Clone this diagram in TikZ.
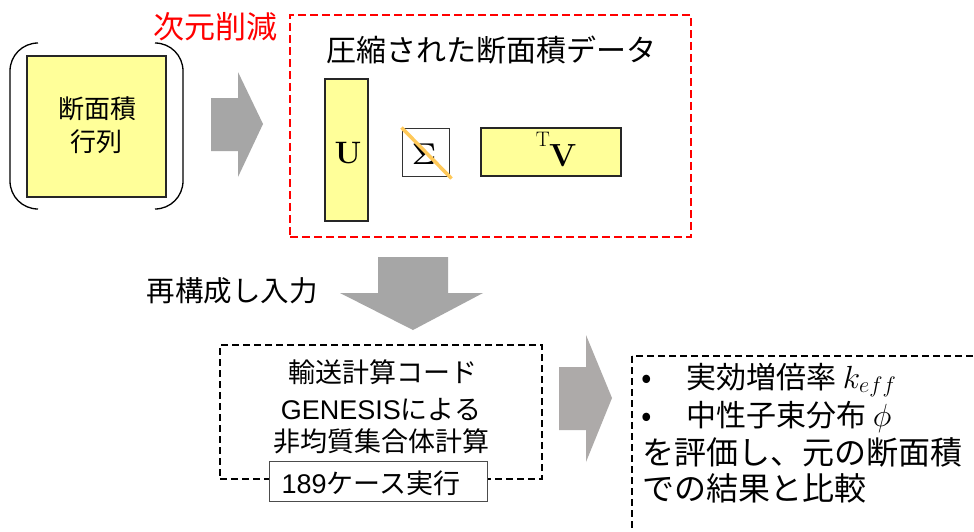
\RequirePackage{fix-cm}
\documentclass[tikz,border=0pt]{standalone}
\usepackage[no-math]{fontspec}
\setmainfont{Liberation Sans}
\newfontfamily\jp{Noto Sans CJK JP}
\newfontfamily\lat{Liberation Sans}
\definecolor{ylw}{HTML}{FFFF99}
\definecolor{agray}{HTML}{A6A6A6}
\definecolor{agray2}{HTML}{ADAAA9}
\definecolor{orng}{HTML}{FFC95A}
\tikzset{
  jt/.style={font={\jp\fontsize{#1pt}{#1pt}\selectfont}, inner sep=0pt, anchor=base},
  ybox/.style={draw=black!85, line width=1.2pt, fill=ylw, inner sep=0pt},
  bdash/.style={draw=black, line width=1.3pt, dash pattern=on 7pt off 4pt},
  rdash/.style={draw=red, line width=1.8pt, dash pattern=on 8pt off 4pt},
}
\begin{document}
\begin{tikzpicture}[x=1pt,y=-1pt]
\clip (0,0) rectangle (974,531);
\fill[white] (0,0) rectangle (974,531);

% left matrix
\draw[line width=1.3pt, rounded corners=28pt] (38,43) -- (10,43) -- (10,209) -- (38,209);
\draw[line width=1.3pt, rounded corners=28pt] (155,43) -- (183,43) -- (183,209) -- (155,209);
\node[ybox, minimum width=139pt, minimum height=141pt] (mat) at (96.5,126.5) {};
\node[jt=26] (matA) at (97,118) {断面積};
\node[jt=26] (matB) at (96,151) {行列};

% arrow 1
\fill[agray] (211,98) -- (238,98) -- (238,72) -- (263,124) -- (238,177) -- (238,151) -- (211,151) -- cycle;

% red label and box
\node[jt=31, text=red] (dimred) at (215.5,38) {次元削減};
\node[rdash, minimum width=401pt, minimum height=222pt, inner sep=0pt] (redbox) at (490.5,126) {};
\node[jt=30] (title) at (491,61) {圧縮された断面積データ};

% U, Sigma, V
\node[ybox, minimum width=43pt, minimum height=142pt] (U) at (346.5,150) {};
\node[inner sep=0pt, font=\fontsize{31pt}{31pt}\selectfont] (Ulab) at (348,153) {$\mathbf{U}$};
\node[draw=black!80, line width=1pt, fill=white, minimum width=47pt, minimum height=48pt, inner sep=0pt] (S) at (425.5,152) {};
\node[inner sep=0pt, font=\fontsize{30pt}{30pt}\selectfont] (Slab) at (424,154) {$\mathbf{\Sigma}$};
\draw[orng, line width=3.5pt] (S.north west) -- ([xshift=2pt,yshift=-2pt]S.south east);
\node[ybox, minimum width=140pt, minimum height=48pt] (V) at (551,152) {};
\node[inner sep=0pt, font=\fontsize{21pt}{21pt}\selectfont] (Tlab) at (543,139) {$\mathrm{T}$};
\node[inner sep=0pt, font=\fontsize{32pt}{32pt}\selectfont] (Vlab) at (563,156) {$\mathbf{V}$};

% down arrow
\fill[agray] (378,257) -- (448,257) -- (448,293) -- (483,293) -- (413,330) -- (340,293) -- (378,293) -- cycle;
\node[jt=28.5] (recon) at (232,301) {再構成し入力};

% calc box
\node[bdash, minimum width=322pt, minimum height=134pt, inner sep=0pt] (calc) at (381,412) {};
\node[jt=27] (c1) at (383,382) {輸送計算コード};
\node[jt=27] (c2) at (381,419) {{\lat GENESIS}による};
\node[jt=27] (c3) at (381,451) {非均質集合体計算};
\node[draw=black!70, line width=1pt, fill=white, minimum width=218pt, minimum height=40pt, inner sep=0pt] (runs) at (378,481) {};
\node[jt=27] (r1) at (371,493) {{\lat 189}ケース実行};

% arrow 2
\fill[agray2] (559,367) -- (586,367) -- (586,335) -- (612,398) -- (586,462) -- (586,430) -- (559,430) -- cycle;

% result box
\coordinate (resNW) at (632,356);
\coordinate (resSE) at (1000,560);
\draw[bdash] (resNW) rectangle (resSE);
\node[jt=31, anchor=base] (b1) at (647,388) {•};
\node[jt=30, anchor=base west] (t1) at (686,388) {実効増倍率 {\fontsize{32pt}{32pt}\selectfont$k_{eff}$}};
\node[jt=31, anchor=base] (b2) at (647,426) {•};
\node[jt=30, anchor=base west] (t2) at (686,426) {中性子束分布 {\fontsize{32pt}{32pt}\selectfont$\phi$}};
\node[jt=32, anchor=base west] (t3) at (642,464) {を評価し、元の断面積};
\node[jt=32, anchor=base west] (t4) at (642,500) {での結果と比較};
\end{tikzpicture}
\end{document}
